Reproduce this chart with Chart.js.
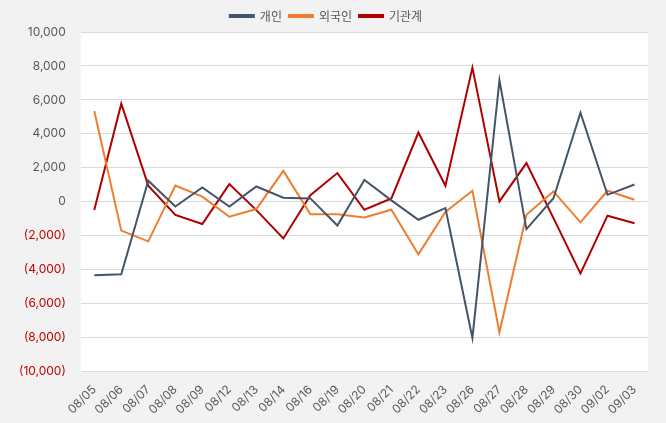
<!DOCTYPE html>
<html>
<head>
<meta charset="utf-8">
<script src="https://cdn.jsdelivr.net/npm/chart.js@4"></script>
<style>
  html, body { margin: 0; padding: 0; background: #f2f2f2; }
  #wrap { width: 666px; height: 423px; }
</style>
</head>
<body>
<div id="wrap"><canvas id="chart"></canvas></div>
<script>
const dates = ['08/05','08/06','08/07','08/08','08/09','08/12','08/13','08/14','08/16','08/19','08/20',
               '08/21','08/22','08/23','08/26','08/27','08/28','08/29','08/30','09/02','09/03'];
const individual = [-4330, -4270, 1240, -280, 840, -280, 900, 240, 200, -1400, 1290,
                    80, -1060, -370, -8020, 7160, -1610, 210, 5250, 410, 1020];
const foreign = [5350, -1700, -2330, 960, 300, -880, -430, 1820, -730, -730, -920,
                 -470, -3100, -600, 650, -7690, -770, 610, -1210, 650, 120];
const institution = [-490, 5780, 950, -770, -1310, 1040, -490, -2160, 390, 1690, -470,
                     200, 4080, 940, 7900, 20, 2280, -960, -4220, -820, -1270];

const textGray = '#595959';
const negRed = '#c00000';

// white plot area on the grey page
const plotBg = {
  id: 'plotBg',
  beforeDraw(chart) {
    const { ctx, chartArea: a } = chart;
    ctx.save();
    ctx.fillStyle = '#ffffff';
    ctx.fillRect(a.left, a.top, a.right - a.left, a.bottom - a.top);
    ctx.restore();
  }
};

function series(label, data, color) {
  return {
    label: label,
    data: data,
    borderColor: color,
    backgroundColor: color,
    borderWidth: 2,
    pointRadius: 0,
    tension: 0
  };
}

new Chart(document.getElementById('chart'), {
  type: 'line',
  data: {
    labels: dates,
    datasets: [
      series('개인', individual, '#44546a'),
      series('외국인', foreign, '#ed7d31'),
      series('기관계', institution, '#b00000')
    ]
  },
  options: {
    responsive: true,
    maintainAspectRatio: false,
    animation: false,
    layout: { padding: { top: 3, right: 18, left: 4, bottom: 3 } },
    font: { family: "'Noto Sans CJK KR', 'Noto Sans', sans-serif" },
    plugins: {
      legend: {
        position: 'top',
        labels: {
          boxWidth: 24,
          boxHeight: 2,
          color: textGray,
          padding: 7,
          font: { size: 12, family: "'Noto Sans CJK KR', sans-serif" }
        }
      },
      tooltip: { enabled: false }
    },
    scales: {
      x: {
        offset: true,
        grid: { display: false },
        border: { display: false },
        ticks: {
          color: textGray,
          maxRotation: 45,
          minRotation: 45,
          autoSkip: false,
          font: { size: 12, family: "'Inter', 'Noto Sans', sans-serif" }
        }
      },
      y: {
        min: -10000,
        max: 10000,
        grid: { color: '#d9d9d9', drawTicks: false },
        border: { display: false },
        ticks: {
          stepSize: 2000,
          padding: 15,
          color: (c) => c.tick && c.tick.value < 0 ? negRed : textGray,
          font: { size: 12, family: "'Inter', 'Noto Sans', sans-serif" },
          callback: (v) => v < 0 ? '(' + Math.abs(v).toLocaleString('en-US') + ')' : v.toLocaleString('en-US')
        }
      }
    }
  },
  plugins: [plotBg]
});
</script>
</body>
</html>
